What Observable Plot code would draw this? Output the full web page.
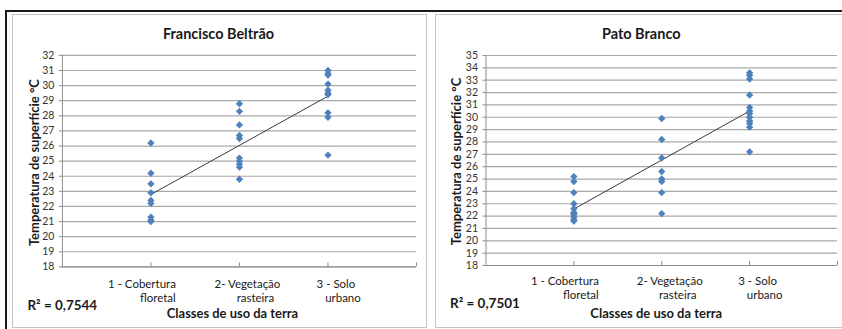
<!DOCTYPE html>
<html>
<head>
<meta charset="utf-8">
<script src="https://cdn.jsdelivr.net/npm/d3@7"></script>
<script src="https://cdn.jsdelivr.net/npm/@observablehq/plot@0.6"></script>
<style>
  html, body { margin: 0; padding: 0; background: #fff; }
  #wrap { position: relative; width: 842px; height: 329px; overflow: hidden; background: #fff; font-family: Lato, "Open Sans", sans-serif; }
  .outer { position: absolute; left: 5px; top: 10px; width: 860px; height: 340px; border-top: 2px solid #1a1a1a; border-left: 2px solid #1a1a1a; }
  .panel { position: absolute; top: 14px; height: 312px; border: 1px solid #c4c4c4; background: #fff; }
  .panel svg { position: absolute; left: 0; top: 0; overflow: visible; }
</style>
</head>
<body>
<div id="wrap">
  <div class="outer"></div>
  <div class="panel" id="p1" style="left:12px; width:413px;"></div>
  <div class="panel" id="p2" style="left:435px; width:420px;"></div>
</div>
<script>
// ---- Data ----
const catX = [1, 2, 3];
const catLine1 = ["1 - Cobertura", "2- Vegetação", "3 - Solo"];
const catLine2 = ["floretal", "rasteira", "urbano"];
const xAxisTitle = "Classes de uso da terra";
const yAxisTitle = "Temperatura de superfície °C";

// Francisco Beltrão
const fbTitle = "Francisco Beltrão";
const fbR2 = "R² = 0,7544";
const fbCobertura = [26.2, 24.2, 23.5, 22.9, 22.4, 22.2, 21.3, 21.1, 21.0];
const fbVegetacao = [28.8, 28.3, 27.4, 26.7, 26.5, 25.2, 25.0, 24.8, 24.6, 23.8];
const fbSolo = [31.0, 30.8, 30.7, 30.1, 29.7, 29.5, 29.4, 28.2, 27.9, 25.4];
const fbYTicks = [18, 19, 20, 21, 22, 23, 24, 25, 26, 27, 28, 29, 30, 31, 32];

// Pato Branco
const pbTitle = "Pato Branco";
const pbR2 = "R² = 0,7501";
const pbCobertura = [25.2, 24.8, 23.9, 23.0, 22.6, 22.3, 22.2, 22.1, 21.9, 21.7, 21.6];
const pbVegetacao = [29.9, 28.2, 26.7, 25.6, 25.0, 24.8, 23.9, 22.2];
const pbSolo = [33.6, 33.4, 33.1, 31.8, 30.8, 30.5, 30.3, 30.0, 29.7, 29.5, 29.2, 27.2];
const pbYTicks = [18, 19, 20, 21, 22, 23, 24, 25, 26, 27, 28, 29, 30, 31, 32, 33, 34, 35];

const xTicks = [1, 2, 3, 4];

function rows(groups) {
  const out = [];
  groups.forEach((vals, i) => vals.forEach(t => out.push({x: catX[i], t})));
  return out;
}

const FONT = "Lato, 'Open Sans', sans-serif";
const line1Dx = [-9, 8, 8];
const line2Dx = [7, 16, 15];

function panel(opts) {
  const data = rows(opts.groups);
  const yTicks = opts.yTicks;
  const catMarks = [];
  catX.forEach((cx, i) => {
    catMarks.push(Plot.text([catLine1[i]], {x: () => cx, text: d => d, frameAnchor: "bottom", lineAnchor: "bottom", dy: opts.cat1Dy, dx: line1Dx[i], fontSize: 11.5, fill: "#1a1a1a"}));
    catMarks.push(Plot.text([catLine2[i]], {x: () => cx, text: d => d, frameAnchor: "bottom", lineAnchor: "bottom", dy: opts.cat2Dy, dx: line2Dx[i], fontSize: 11.5, fill: "#1a1a1a"}));
  });
  return Plot.plot({
    width: opts.width,
    height: 312,
    marginLeft: opts.ml,
    marginRight: opts.mr,
    marginTop: 40,
    marginBottom: opts.mb,
    style: {fontFamily: FONT, background: "transparent", overflow: "visible"},
    x: {domain: [0, 4], axis: null},
    y: {domain: [yTicks[0], yTicks[yTicks.length - 1]], axis: null},
    marks: [
      Plot.gridY(yTicks, {stroke: "#a8a8a8", strokeOpacity: 1, strokeWidth: 1.2}),
      Plot.ruleX([0], {stroke: "#8c8c8c"}),
      Plot.ruleY([yTicks[0]], {stroke: "#8c8c8c"}),
      Plot.axisY(yTicks, {label: null, tickSize: 3, tickPadding: 5, stroke: "#8c8c8c", fontSize: 10.5, fill: "#333", tickFormat: d => String(d)}),
      Plot.axisX(xTicks, {label: null, anchor: "bottom", tickSize: -4, stroke: "#8c8c8c", tickFormat: () => ""}),
      Plot.linearRegressionY(data, {x: "x", y: "t", stroke: "#3a3a3a", strokeWidth: 1, ci: 0}),
      Plot.dot(data, {x: "x", y: "t", symbol: "diamond2", r: 3.3, fill: "#4f81bd", stroke: "none"}),
      Plot.text([opts.title], {text: d => d, frameAnchor: "top", lineAnchor: "bottom", dx: opts.titleDx, dy: opts.titleDy, fontSize: 14.5, fontWeight: "bold", fill: "#1a1a1a"}),
      Plot.text([yAxisTitle], {text: d => d, frameAnchor: "left", rotate: -90, textAnchor: "middle", dx: opts.ylabDx, dy: opts.ylabDy, fontSize: 13, fontWeight: "bold", fill: "#1a1a1a"}),
      ...catMarks,
      Plot.text([xAxisTitle], {text: d => d, frameAnchor: "bottom", lineAnchor: "bottom", dx: opts.xlabDx, dy: opts.xlabDy, fontSize: 13, fontWeight: "bold", fill: "#1a1a1a"}),
      Plot.text([opts.r2], {text: d => d, frameAnchor: "bottom-left", textAnchor: "start", lineAnchor: "bottom", dx: opts.r2Dx, dy: opts.r2Dy, fontSize: 13.5, fontWeight: "bold", fill: "#1a1a1a"})
    ]
  });
}

document.getElementById("p1").appendChild(panel({
  groups: [fbCobertura, fbVegetacao, fbSolo], yTicks: fbYTicks, title: fbTitle, r2: fbR2,
  width: 414, ml: 49, mr: 10, mb: 60,
  titleDx: -21, titleDy: -16, ylabDx: -28, ylabDy: 1.5,
  cat1Dy: 21, cat2Dy: 35, xlabDx: -7, xlabDy: 51, r2Dx: -35, r2Dy: 43
}));
document.getElementById("p2").appendChild(panel({
  groups: [pbCobertura, pbVegetacao, pbSolo], yTicks: pbYTicks, title: pbTitle, r2: pbR2,
  width: 406, ml: 49.5, mr: 5, mb: 62,
  titleDx: -20.5, titleDy: -17, ylabDx: -29, ylabDy: 1,
  cat1Dy: 19, cat2Dy: 33, xlabDx: -5.5, xlabDy: 52, r2Dx: -36, r2Dy: 42
}));
</script>
</body>
</html>
